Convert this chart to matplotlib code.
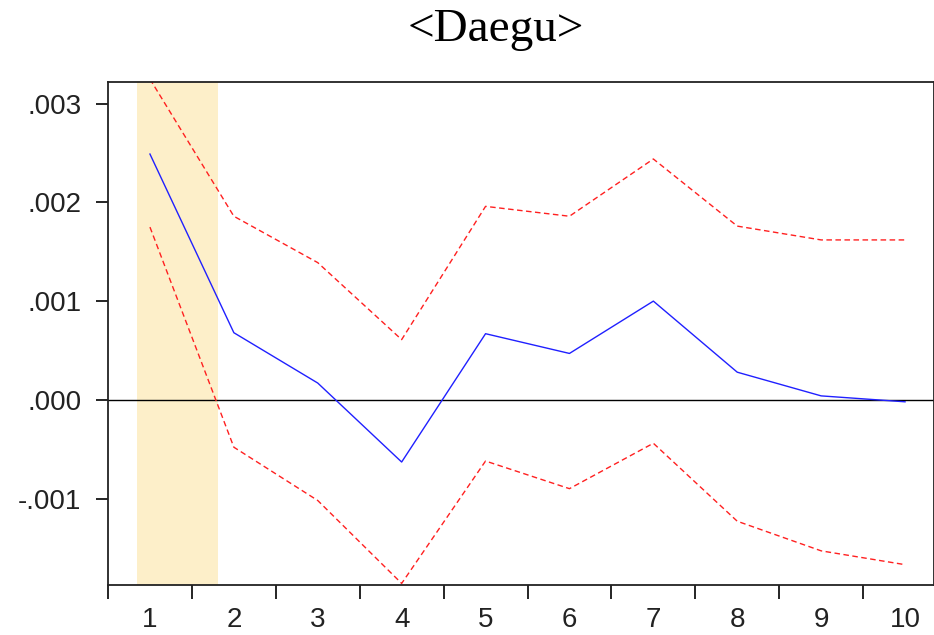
import matplotlib.pyplot as plt
import numpy as np

# Impulse response (Daegu) and +/- 2 S.E. bands
periods = np.arange(1, 11)
response = [0.00249, 0.00068, 0.00017, -0.00063, 0.00067, 0.00047, 0.00100, 0.00028, 0.00004, -0.00002]
upper = [0.00325, 0.00186, 0.00139, 0.00061, 0.00196, 0.00186, 0.00244, 0.00176, 0.00162, 0.00162]
lower = [0.00175, -0.00048, -0.00102, -0.00186, -0.00062, -0.00090, -0.00044, -0.00123, -0.00153, -0.00167]
y_ticks = [-0.001, 0.0, 0.001, 0.002, 0.003]
y_labels = ['-.001', '.000', '.001', '.002', '.003']
shade = (0.846, 1.811)

fig = plt.figure(figsize=(9.34, 6.35), dpi=100)
ax = fig.add_axes([108 / 934, 1 - 585 / 635, 1 - 108 / 934, (585 - 82) / 635])

ax.axvspan(shade[0], shade[1], color='#fdefc9', lw=0, zorder=0)
ax.axhline(0, color='black', lw=1.0, zorder=1)
ax.plot(periods, upper, color='#ff2020', lw=1.0, ls=(0, (4, 2.5)), zorder=2)
ax.plot(periods, lower, color='#ff2020', lw=1.0, ls=(0, (4, 2.5)), zorder=2)
ax.plot(periods, response, color='#2020ff', lw=1.0, zorder=3)

ax.set_xlim(0.5, 10.345)
ax.set_ylim(-0.001876, 0.00322)

ax.set_yticks(y_ticks)
ax.set_yticklabels(y_labels, fontsize=20, family='Liberation Sans', color='#222222')
ax.tick_params(axis='y', direction='out', length=9, width=1.2, pad=10)

# x ticks at period boundaries, labels at period centres
ax.set_xticks(np.arange(0.5, 10.5, 1.0))
ax.set_xticklabels([])
ax.tick_params(axis='x', which='major', direction='out', length=10, width=1.2)
ax.set_xticks(periods, minor=True)
ax.set_xticklabels([str(p) for p in periods], minor=True, fontsize=20,
                   family='Liberation Sans', color='#222222')
ax.tick_params(axis='x', which='minor', length=0, pad=16)

for s in ax.spines.values():
    s.set_linewidth(1.3)
    s.set_color('#222222')

fig.text(496 / 934, 1 - 30 / 635, '<Daegu>', fontsize=34, family='Liberation Serif',
         ha='center', va='center')

fig.savefig('out.png', dpi=100)
